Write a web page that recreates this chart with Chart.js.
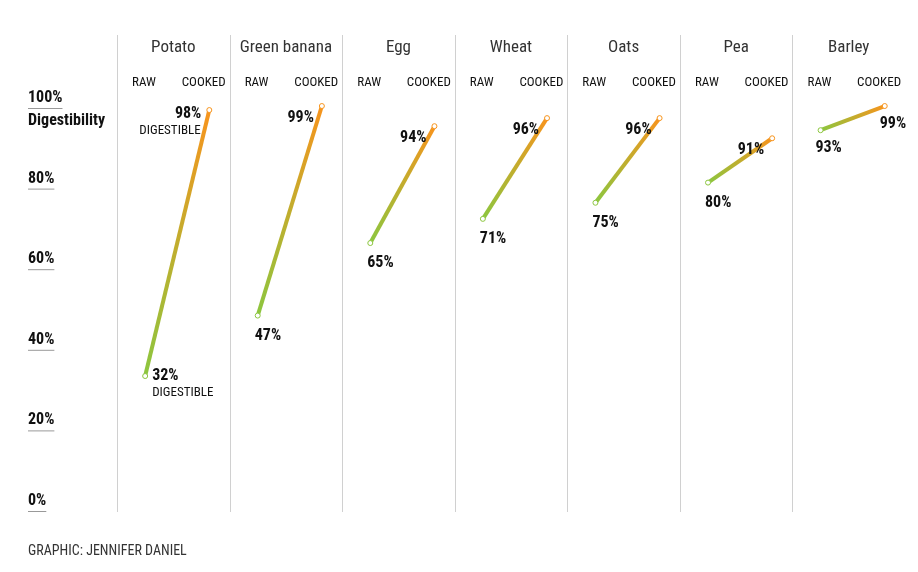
<!DOCTYPE html>
<html><head><meta charset="utf-8">
<script src="https://cdn.jsdelivr.net/npm/chart.js@4"></script>
<style>html,body{margin:0;background:#fff}#w{width:918px;height:572px}</style>
</head><body><div id="w"><canvas id="c"></canvas></div>
<script>
const categories=["Potato","Green banana","Egg","Wheat","Oats","Pea","Barley"];
const rawValues=[32,47,65,71,75,80,93];
const cookedValues=[98,99,94,96,96,91,99];
const yTicks=[0,20,40,60,80,100];
const FONT="'Liberation Sans Narrow','Roboto Condensed','DejaVu Sans Condensed',sans-serif";
const RX=0.25, CX=0.82;
function grad(ch,i){const x=ch.scales.x,y=ch.scales.y;
  if(!ch.chartArea||!x||!y)return '#c9a';
  const x0=x.getPixelForValue(i+RX),y0=y.getPixelForValue(rawValues[i]),x1=x.getPixelForValue(i+CX),y1=y.getPixelForValue(cookedValues[i]);
  if(![x0,y0,x1,y1].every(Number.isFinite))return '#c9a';
  const g=ch.ctx.createLinearGradient(x0,y0,x1,y1);g.addColorStop(0,'#8cc63f');g.addColorStop(1,'#f7941d');return g;}
const datasets=categories.map((c,i)=>({
  label:c,
  data:[{x:i+RX,y:rawValues[i]},{x:i+CX,y:cookedValues[i]}],
  borderWidth:4,pointRadius:2.5,pointBackgroundColor:'#fff',pointBorderWidth:1,
  borderColor:ctx=>grad(ctx.chart,ctx.datasetIndex),
  pointBorderColor:['#8cc63f','#f7941d']
}));
const deco={id:'deco',afterDraw(ch){
  const c=ch.ctx,x=ch.scales.x,y=ch.scales.y;c.save();
  c.strokeStyle='#d0d0d0';c.lineWidth=1;
  for(let i=0;i<categories.length;i++){const px=Math.round(x.getPixelForValue(i))+0.5;c.beginPath();c.moveTo(px,35);c.lineTo(px,512);c.stroke();}
  c.fillStyle='#222';c.textBaseline='middle';
  for(let i=0;i<categories.length;i++){
    const cx=x.getPixelForValue(i+0.5);
    c.font="17px "+FONT;c.textAlign='center';c.fillStyle='#333';c.fillText(categories[i],cx,48);
    c.font="13px "+FONT;c.fillStyle='#111';
    c.fillText('RAW',x.getPixelForValue(i+0.24),83);c.fillText('COOKED',x.getPixelForValue(i+0.77),83);
    const rx=x.getPixelForValue(i+RX),ry=y.getPixelForValue(rawValues[i]);
    const kx=x.getPixelForValue(i+CX),ky=y.getPixelForValue(cookedValues[i]);
    c.font="bold 16px "+FONT;
    if(i===6){c.textAlign='center';c.fillText(rawValues[i]+'%',rx+8,ry+18);c.textAlign='left';c.fillText(cookedValues[i]+'%',kx-5,ky+18);}
    else{
      c.textAlign='left';c.fillText(rawValues[i]+'%',rx+(i===0?7:-3),ry+(i===0?0:20));
      c.textAlign='right';c.fillText(cookedValues[i]+'%',kx-8,ky+(i===0?4:12));
    }
    if(i===0){c.font="13px "+FONT;c.textAlign='left';c.fillText('DIGESTIBLE',rx+7,ry+17);c.fillText('DIGESTIBLE',kx-70,ky+21);}
  }
  c.textAlign='left';
  yTicks.forEach(v=>{const py=y.getPixelForValue(v);c.font="bold 16px "+FONT;c.fillStyle='#111';
    c.fillText(v+'%',28,py-4);const w=c.measureText(v+'%').width;c.strokeStyle='#999';c.beginPath();c.moveTo(28,py+6.5);c.lineTo(28+w,py+6.5);c.stroke();
    if(v===100){c.fillText('Digestibility',28,py+19);}});
  c.font="14px "+FONT;c.fillStyle='#333';c.fillText('GRAPHIC: JENNIFER DANIEL',28,551);
  c.restore();}};
new Chart(document.getElementById('c'),{type:'line',data:{datasets},plugins:[deco],
 options:{responsive:true,maintainAspectRatio:false,animation:false,
  layout:{padding:{left:117,top:102,right:13,bottom:67}},
  plugins:{legend:{display:false},tooltip:{enabled:false}},
  scales:{x:{type:'linear',min:0,max:7,display:false},y:{min:0,max:100,display:false}}}});
</script></body></html>
